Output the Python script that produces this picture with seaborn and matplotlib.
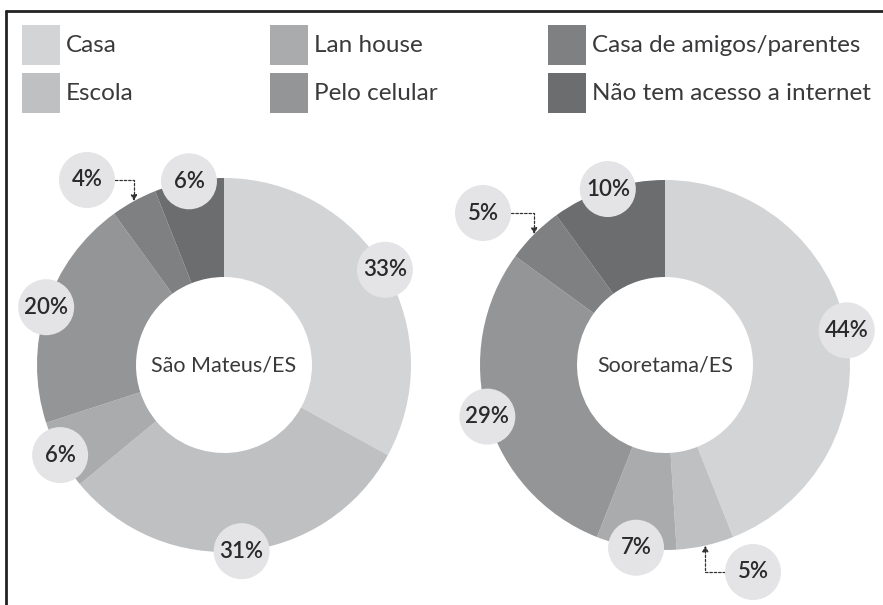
import numpy as np
import matplotlib
matplotlib.use('Agg')
from matplotlib import pyplot as plt
from matplotlib.lines import Line2D
from matplotlib.patches import Rectangle
import seaborn as sns

categories = ['Casa', 'Escola', 'Lan house', 'Pelo celular',
              'Casa de amigos/parentes', 'Não tem acesso a internet']
sao_mateus = [33, 31, 6, 20, 4, 6]
sooretama = [44, 5, 7, 29, 5, 10]
city_names = ['São Mateus/ES', 'Sooretama/ES']

palette = sns.color_palette(['#d3d4d6', '#bfc0c2', '#aaabad',
                             '#949597', '#7f8082', '#6c6d6f'])

sns.set_style('white')
plt.rcParams['font.family'] = ['Lato', 'DejaVu Sans']

W, H = 883, 605
fig = plt.figure(figsize=(W / 100, H / 100), dpi=100)
ax = fig.add_axes([0, 0, 1, 1])
ax.set_xlim(0, W)
ax.set_ylim(0, H)
ax.set_aspect('equal')
ax.axis('off')

# layout: donut centres / radii in pixel units
centers = [(224, 240), (665, 240)]
radii = [187, 185]
hole = 88
bubble_r = 28
text_col = '#2a2a2c'

# bubbles that sit away from their slice (offset from centre) -> leader line
moved = {(0, 4): (-137, 185), (1, 4): (-182, 152), (1, 1): (88, -207)}

for k, values in enumerate([sao_mateus, sooretama]):
    cx, cy = centers[k]
    R = radii[k]
    wedges, _ = ax.pie(values, colors=palette, startangle=90, counterclock=False,
                       radius=R, center=(cx, cy), frame=True,
                       wedgeprops=dict(width=R - hole, linewidth=0))
    ax.text(cx, cy, city_names[k], ha='center', va='center',
            fontsize=15.5, color='#3a3a3c')
    for i, w in enumerate(wedges):
        mid = np.deg2rad((w.theta1 + w.theta2) / 2)
        edge = (cx + R * np.cos(mid), cy + R * np.sin(mid))
        if (k, i) in moved:
            dx, dy = moved[(k, i)]
            bx, by = cx + dx, cy + dy
            ax.annotate('', xy=edge, xytext=(bx, by),
                        arrowprops=dict(arrowstyle='-|>,head_length=0.35,head_width=0.18',
                                        connectionstyle='angle,angleA=0,angleB=90,rad=0',
                                        linestyle=(0, (2, 1.5)), linewidth=0.9,
                                        color='#333333', shrinkA=20, shrinkB=0),
                        zorder=3)
        else:
            bx, by = edge
        ax.scatter([bx], [by], s=(2 * bubble_r * 0.72) ** 2, color='#e4e4e6',
                   edgecolors='none', zorder=4)
        ax.text(bx, by, f'{values[i]}%', ha='center', va='center',
                fontsize=16, fontweight='semibold', color=text_col, zorder=5)

ax.set_xlim(0, W)
ax.set_ylim(0, H)
ax.axis('off')

# legend, three columns of two rows
col_x = [22, 270, 548]
row_y = [H - 65, H - 113]
for i, name in enumerate(categories):
    x0 = col_x[i // 2]
    y0 = row_y[i % 2]
    ax.add_patch(Rectangle((x0, y0), 38, 40, color=palette[i], linewidth=0))
    ax.text(x0 + 44, y0 + 20, name, ha='left', va='center',
            fontsize=17.5, color='#3a3a3c')

# frame lines (top and left)
fig.add_artist(Line2D([6 / W, 1], [1 - 11 / H, 1 - 11 / H],
                      color='#222222', linewidth=2))
fig.add_artist(Line2D([6 / W, 6 / W], [0, 1 - 11 / H],
                      color='#222222', linewidth=2))

fig.savefig('out.png', dpi=100, facecolor='white')
